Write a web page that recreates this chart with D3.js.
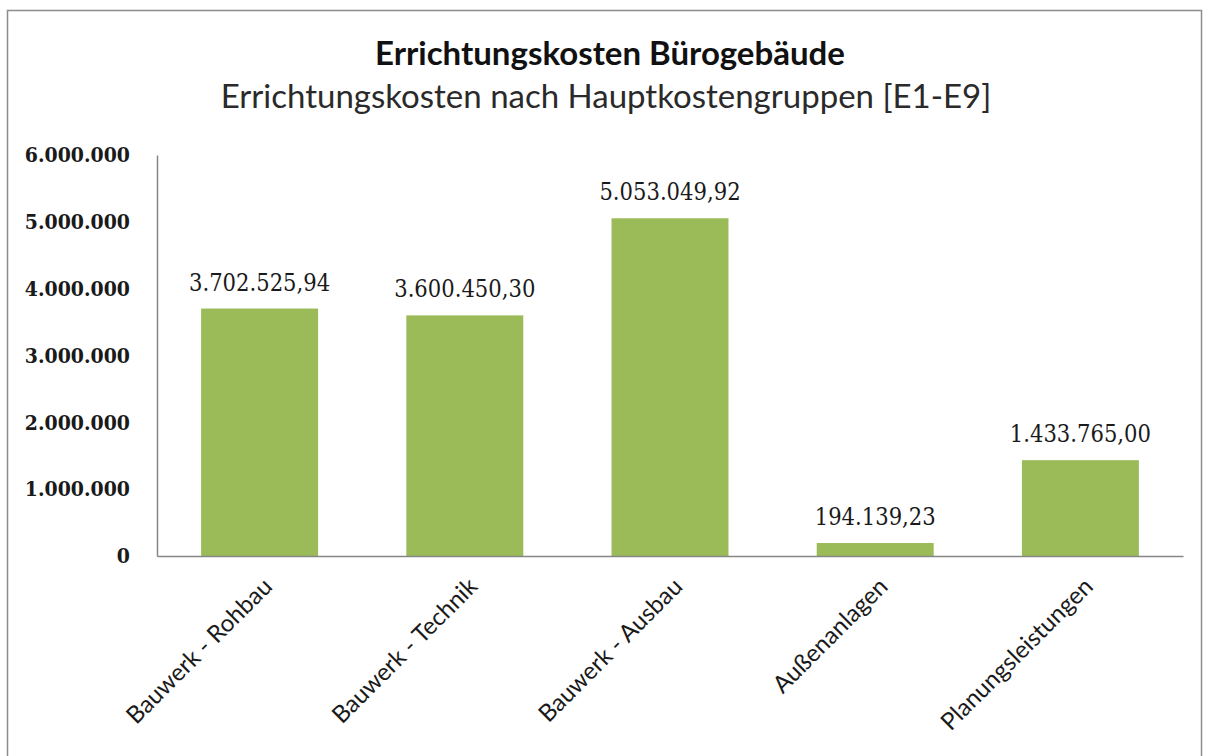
<!DOCTYPE html>
<html>
<head>
<meta charset="utf-8">
<script src="https://cdn.jsdelivr.net/npm/d3@7"></script>
<style>
  body { margin: 0; background: #fff; }
  svg { display: block; }
</style>
</head>
<body>
<svg id="chart"></svg>
<script>
// Data
const categories = ["Bauwerk - Rohbau", "Bauwerk - Technik", "Bauwerk - Ausbau", "Außenanlagen", "Planungsleistungen"];
const values = [3702525.94, 3600450.30, 5053049.92, 194139.23, 1433765.00];
const yTicks = [0, 1000000, 2000000, 3000000, 4000000, 5000000, 6000000];

const width = 1206;
const height = 756;
const margin = { top: 155, right: 23, bottom: 200, left: 157 };

const svg = d3.select("#chart")
    .attr("width", width)
    .attr("height", height);

// chart border
svg.append("rect")
    .attr("x", 7.5)
    .attr("y", 10.5)
    .attr("width", 1194)
    .attr("height", 760)
    .attr("fill", "#fff")
    .attr("stroke", "#8c8c8c")
    .attr("stroke-width", 1.5);

// German number formats
const de = d3.formatLocale({ decimal: ",", thousands: ".", grouping: [3], currency: ["", " €"] });
const fmtTick = de.format(",.0f");
const fmtVal = de.format(",.2f");

const xScale = d3.scaleBand()
    .domain(categories)
    .range([margin.left, width - margin.right])
    .paddingInner(0.43)
    .paddingOuter(0.215);

const yScale = d3.scaleLinear()
    .domain([0, 6000000])
    .range([height - margin.bottom, margin.top]);

// y axis
const yAxis = svg.append("g")
    .attr("transform", `translate(${margin.left}, 0)`)
    .call(d3.axisLeft(yScale).tickValues(yTicks).tickFormat(fmtTick).tickSize(0).tickPadding(27));
yAxis.select(".domain").attr("stroke", "#868686").attr("stroke-width", 1.5);
yAxis.selectAll("text")
    .attr("font-family", "'DejaVu Serif Condensed', 'DejaVu Serif', serif")
    .attr("font-weight", "bold")
    .attr("font-size", "21px")
    .attr("fill", "#1a1a1a");

// bars
svg.selectAll(".bar")
    .data(values)
    .enter()
    .append("rect")
    .attr("class", "bar")
    .attr("x", (d, i) => xScale(categories[i]))
    .attr("y", d => yScale(d))
    .attr("width", xScale.bandwidth())
    .attr("height", d => yScale(0) - yScale(d))
    .attr("fill", "#9bbb59");

// x axis
const xAxis = svg.append("g")
    .attr("transform", `translate(0, ${height - margin.bottom})`)
    .call(d3.axisBottom(xScale).tickSize(0).tickPadding(0));
xAxis.select(".domain").attr("stroke", "#868686").attr("stroke-width", 1.5);
xAxis.selectAll("text")
    .attr("font-family", "Lato, 'Open Sans', sans-serif")
    .attr("font-size", "24px")
    .attr("fill", "#1a1a1a")
    .attr("text-anchor", "end")
    .attr("dy", "0")
    .attr("transform", "translate(14, 32) rotate(-45)");

// value labels
svg.selectAll(".value-label")
    .data(values)
    .enter()
    .append("text")
    .attr("class", "value-label")
    .attr("x", (d, i) => xScale(categories[i]) + xScale.bandwidth() / 2)
    .attr("y", d => yScale(d) - 18)
    .attr("text-anchor", "middle")
    .attr("font-family", "'DejaVu Serif Condensed', 'DejaVu Serif', serif")
    .attr("font-size", "23.5px")
    .attr("fill", "#1a1a1a")
    .text(d => fmtVal(d));

// titles
svg.append("text")
    .attr("x", 610)
    .attr("y", 65)
    .attr("text-anchor", "middle")
    .attr("font-family", "Lato, 'Open Sans', sans-serif")
    .attr("font-weight", "bold")
    .attr("font-size", "33px")
    .attr("fill", "#111")
    .text("Errichtungskosten Bürogebäude");

svg.append("text")
    .attr("x", 606)
    .attr("y", 108)
    .attr("text-anchor", "middle")
    .attr("font-family", "Lato, 'Open Sans', sans-serif")
    .attr("font-size", "33px")
    .attr("fill", "#2a2a2a")
    .text("Errichtungskosten nach Hauptkostengruppen [E1-E9]");
</script>
</body>
</html>
